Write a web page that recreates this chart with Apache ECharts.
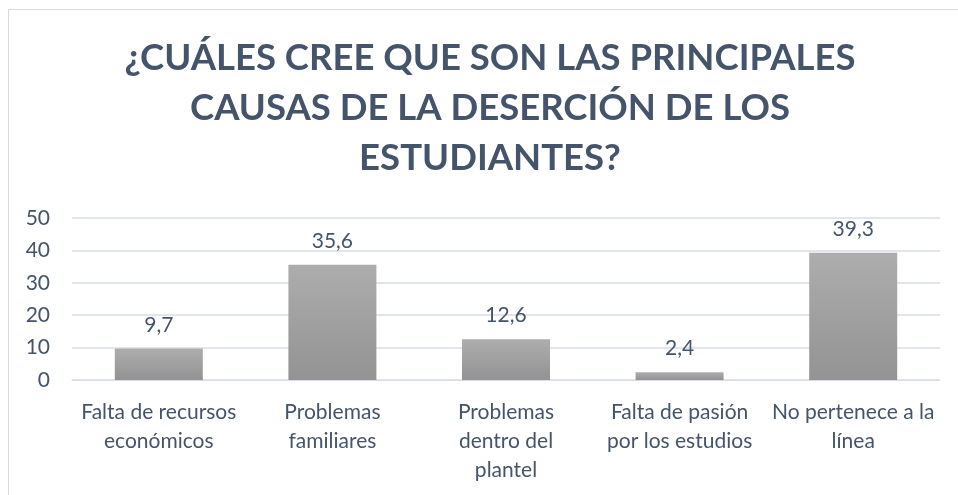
<!DOCTYPE html>
<html><head><meta charset="utf-8">
<script src="https://cdn.jsdelivr.net/npm/echarts@6/dist/echarts.min.js"></script>
<style>html,body{margin:0;padding:0;background:#fff}#c{width:958px;height:495px}</style>
</head><body><div id="c"></div>
<script>
const titleText = "¿CUÁLES CREE QUE SON LAS PRINCIPALES\nCAUSAS DE LA DESERCIÓN DE LOS\nESTUDIANTES?";
const categories = ["Falta de recursos\neconómicos", "Problemas\nfamiliares", "Problemas\ndentro del\nplantel", "Falta de pasión\npor los estudios", "No pertenece a la\nlínea"];
const values = [9.7, 35.6, 12.6, 2.4, 39.3];
const yTicks = [0, 10, 20, 30, 40, 50];

const txt = '#44546A';
const chart = echarts.init(document.getElementById('c'), null, {renderer: 'canvas'});
chart.setOption({
  animation: false,
  backgroundColor: '#fff',
  graphic: [
    {type: 'rect', shape: {x: 8.5, y: 9.5, width: 960, height: 500}, style: {fill: 'none', stroke: '#d9d9d9', lineWidth: 1}},
    {type: 'text', x: 490, y: 33, style: {text: titleText, align: 'center', verticalAlign: 'top',
      font: 'bold 36.5px Lato', fill: txt, lineHeight: 50}}
  ],
  grid: {left: 72, right: 18, top: 218, bottom: 115},
  xAxis: {
    type: 'category', data: categories,
    axisLine: {show: true, lineStyle: {color: '#d9dde3', width: 1}},
    axisTick: {show: false},
    axisLabel: {color: txt, fontFamily: 'Lato', fontSize: 21, lineHeight: 29, margin: 18, interval: 0}
  },
  yAxis: {
    type: 'value', min: yTicks[0], max: yTicks[yTicks.length - 1], interval: 10,
    axisLine: {show: false}, axisTick: {show: false},
    splitLine: {lineStyle: {color: '#d9dde3', width: 1.5}},
    axisLabel: {color: txt, fontFamily: 'Lato', fontSize: 21, margin: 22}
  },
  series: [{
    type: 'bar', data: values, barWidth: 88,
    itemStyle: {color: new echarts.graphic.LinearGradient(0, 0, 0, 1, [{offset: 0, color: '#adadad'}, {offset: 1, color: '#939393'}])},
    label: {show: true, position: 'top', distance: 13, color: txt, fontFamily: 'Lato', fontSize: 21,
      formatter: p => String(p.value).replace('.', ',')}
  }]
});
</script></body></html>
